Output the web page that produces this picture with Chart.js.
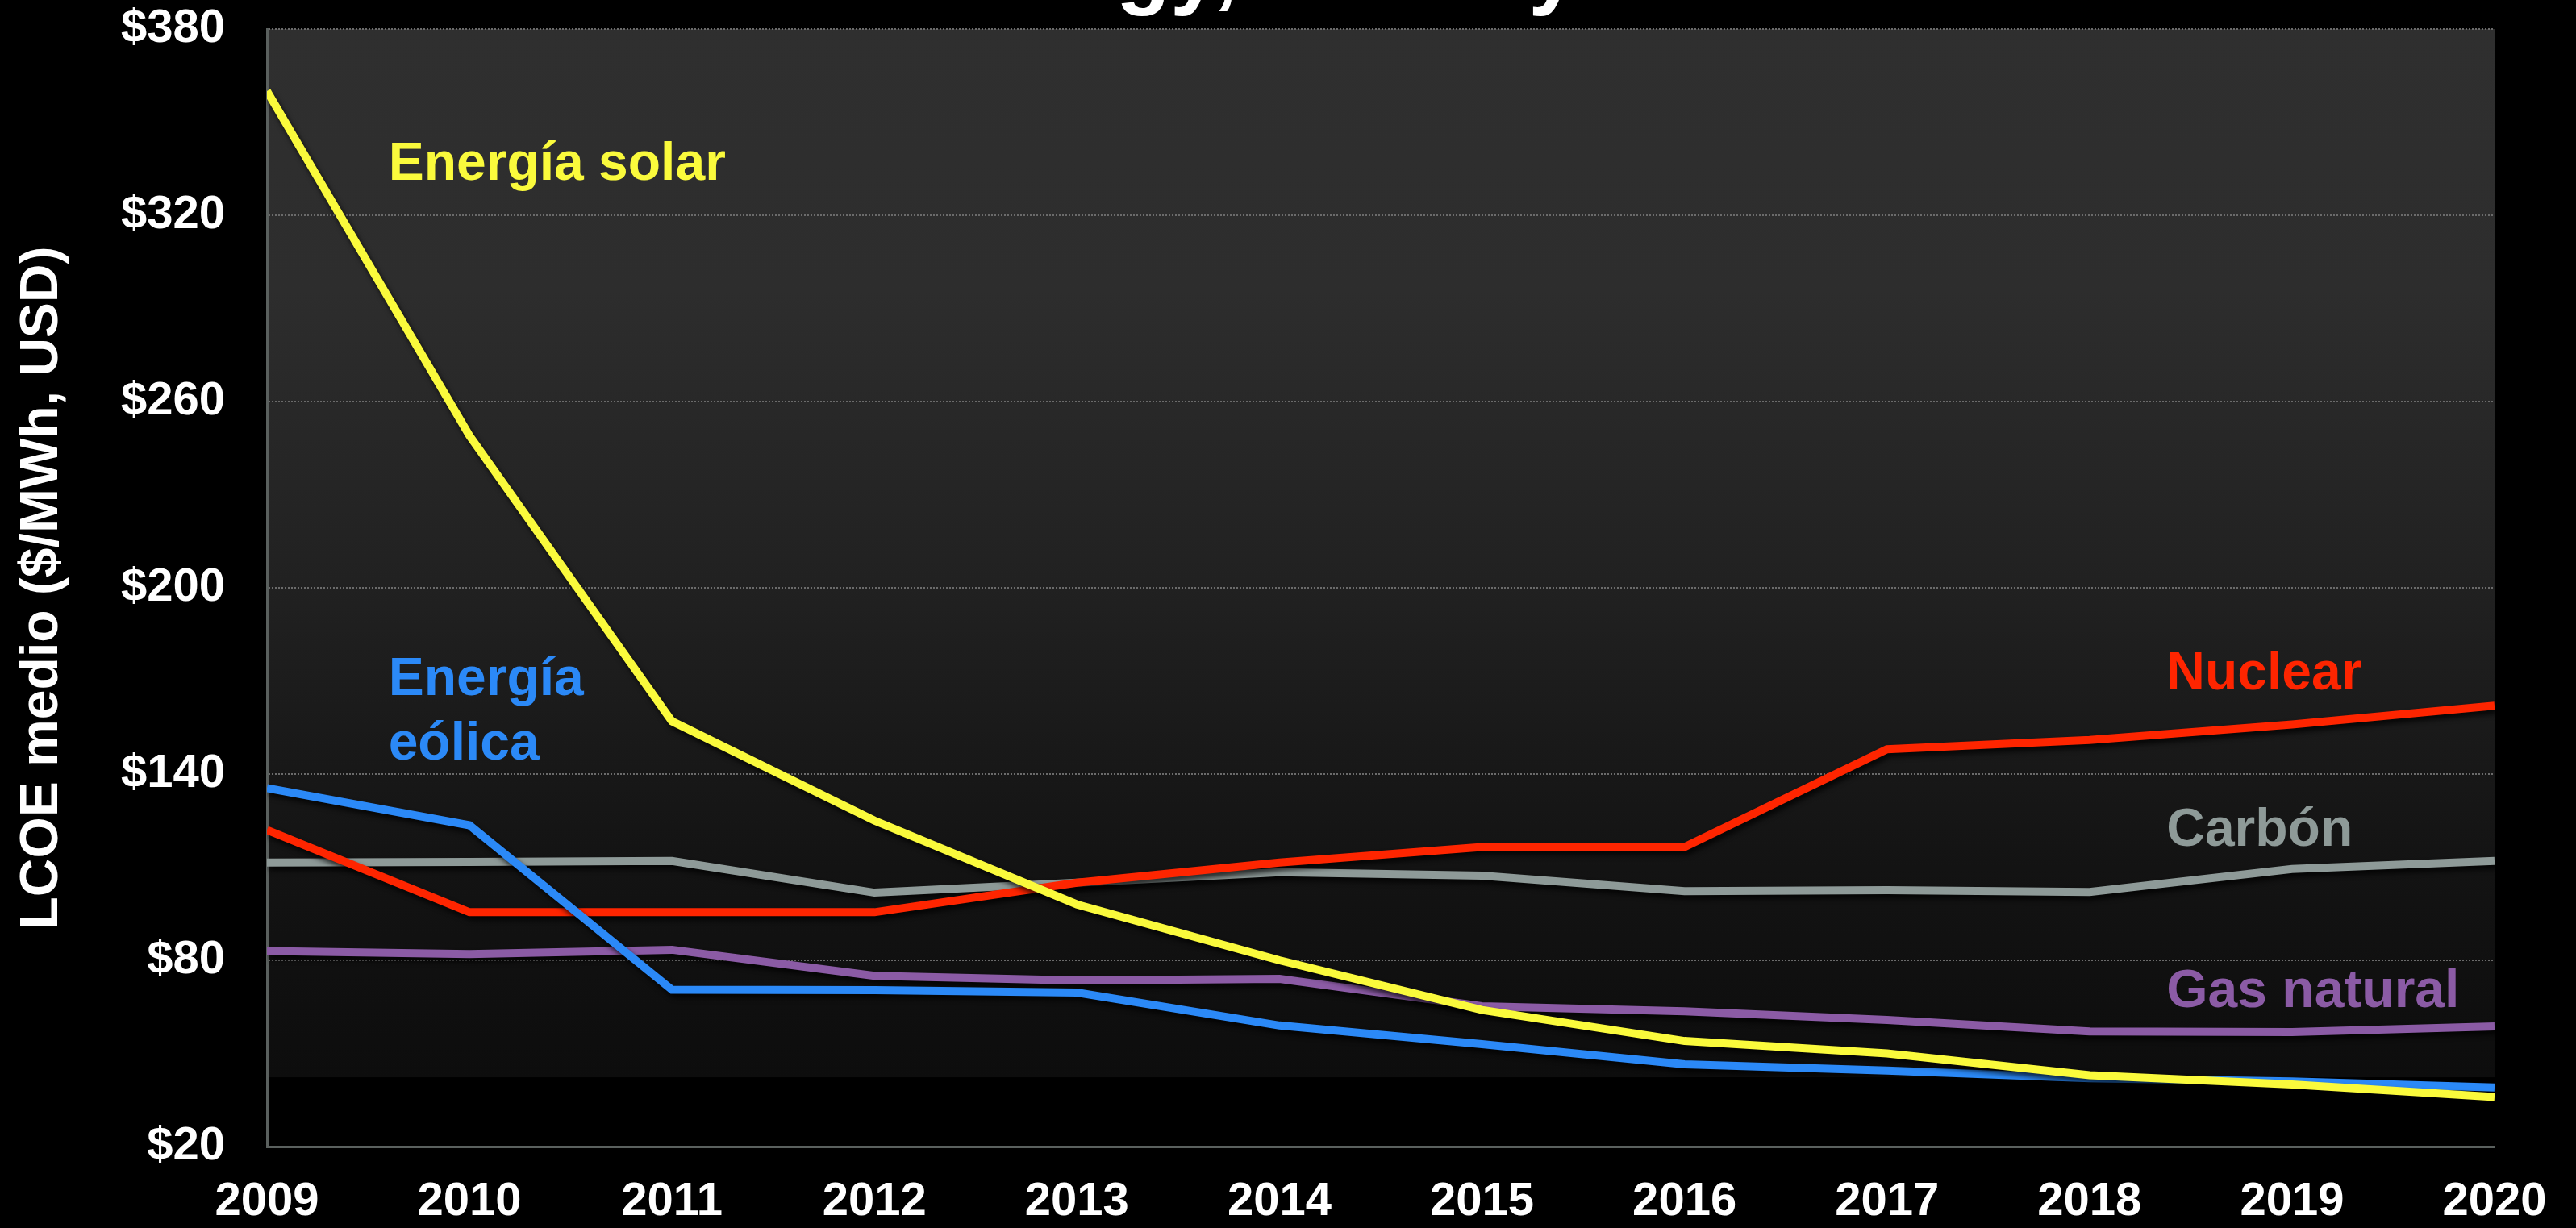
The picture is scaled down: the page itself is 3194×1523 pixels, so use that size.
<!DOCTYPE html>
<html>
<head>
<meta charset="utf-8">
<script src="https://cdn.jsdelivr.net/npm/chart.js@4.4.0/dist/chart.umd.min.js"></script>
<style>
  html, body { margin: 0; padding: 0; background: #000; }
  #wrap { width: 3194px; height: 1523px; position: relative; }
</style>
</head>
<body>
<div id="wrap"><canvas id="lcoeChart"></canvas></div>
<script>
const years = [2009, 2010, 2011, 2012, 2013, 2014, 2015, 2016, 2017, 2018, 2019, 2020];
const solar = [360, 249, 157, 125, 98, 80, 64, 54, 50, 43, 40, 36];
const wind = [135.5, 123.5, 70.5, 70.4, 69.6, 59, 53, 46.5, 44.5, 42, 41, 39];
const nuclear = [122, 95.5, 95.5, 95.5, 105, 111.5, 116.5, 116.5, 148, 151, 156, 162];
const coal = [111.5, 111.7, 112, 101.8, 105, 108.4, 107.3, 102.3, 102.6, 102, 109.4, 112];
const gas = [83, 82, 83.4, 75, 73.5, 74, 65.2, 63.6, 60.8, 57.1, 56.9, 58.7];
const yTicks = [20, 80, 140, 200, 260, 320, 380];

const FONT = "'Liberation Sans', Arial, sans-serif";
const colors = {
  solar: '#FAFA3C',
  wind: '#2B89F7',
  nuclear: '#FE2500',
  coal: '#8E9A98',
  gas: '#8B5BA5'
};

function points(values) {
  return years.map((y, i) => ({ x: y, y: values[i] }));
}

function line(label, values, color, order) {
  return {
    label: label,
    data: points(values),
    borderColor: color,
    borderWidth: 10,
    borderCapStyle: 'butt',
    borderJoinStyle: 'miter',
    pointRadius: 0,
    tension: 0,
    fill: false,
    order: order
  };
}

// text labels next to the lines (x in years, y in $/MWh, left aligned on the baseline)
const notes = [
  { lines: ['Energía solar'], x: 2009.6, y: 331.4, color: colors.solar },
  { lines: ['Energía', 'eólica'], x: 2009.6, y: 165.5, color: colors.wind },
  { lines: ['Nuclear'], x: 2018.38, y: 167.3, color: colors.nuclear },
  { lines: ['Carbón'], x: 2018.38, y: 116.9, color: colors.coal },
  { lines: ['Gas natural'], x: 2018.38, y: 64.9, color: colors.gas }
];

const backdrop = {
  id: 'backdrop',
  beforeDraw(chart) {
    const { ctx, chartArea: a } = chart;
    const h = a.bottom - a.top;
    const cut = a.top + h * 0.938;
    const g = ctx.createLinearGradient(0, a.top, 0, cut);
    g.addColorStop(0, '#2f2f2f');
    g.addColorStop(0.25, '#2d2d2d');
    g.addColorStop(0.55, '#202020');
    g.addColorStop(0.8, '#131313');
    g.addColorStop(1, '#0d0d0d');
    ctx.save();
    ctx.fillStyle = g;
    ctx.fillRect(a.left, a.top, a.right - a.left, cut - a.top);
    ctx.restore();
  }
};

const lineShadow = {
  id: 'lineShadow',
  beforeDatasetDraw(chart) {
    const c = chart.ctx;
    c.save();
    c.shadowColor = 'rgba(0,0,0,0.75)';
    c.shadowBlur = 6;
    c.shadowOffsetX = 3;
    c.shadowOffsetY = 5;
  },
  afterDatasetDraw(chart) {
    chart.ctx.restore();
  }
};

const lineNotes = {
  id: 'lineNotes',
  afterDatasetsDraw(chart) {
    const { ctx, scales } = chart;
    ctx.save();
    ctx.font = 'bold 66px ' + FONT;
    ctx.textAlign = 'left';
    ctx.textBaseline = 'alphabetic';
    notes.forEach(n => {
      const px = scales.x.getPixelForValue(n.x);
      const py = scales.y.getPixelForValue(n.y);
      ctx.fillStyle = n.color;
      n.lines.forEach((t, i) => ctx.fillText(t, px, py + i * 80));
    });
    ctx.restore();
  }
};

// slide title, cut off by the top of the picture
const topTitle = {
  id: 'topTitle',
  afterDraw(chart) {
    const ctx = chart.ctx;
    ctx.save();
    ctx.font = 'bold 110px ' + FONT;
    ctx.fillStyle = '#ffffff';
    ctx.textAlign = 'left';
    ctx.textBaseline = 'alphabetic';
    ctx.fillText('Levelized Cost of Energy, Year by Year', 204, -3);
    ctx.restore();
  }
};

const ctx = document.getElementById('lcoeChart').getContext('2d');

new Chart(ctx, {
  type: 'line',
  data: {
    datasets: [
      line('Energía solar', solar, colors.solar, 1),
      line('Energía eólica', wind, colors.wind, 2),
      line('Nuclear', nuclear, colors.nuclear, 3),
      line('Gas natural', gas, colors.gas, 4),
      line('Carbón', coal, colors.coal, 5)
    ]
  },
  options: {
    responsive: true,
    maintainAspectRatio: false,
    animation: false,
    layout: { padding: { top: 36, right: 101, bottom: 0, left: 0 } },
    plugins: {
      legend: { display: false },
      tooltip: { enabled: false }
    },
    scales: {
      x: {
        type: 'linear',
        min: years[0],
        max: years[years.length - 1],
        afterBuildTicks(scale) {
          scale.ticks = years.map(v => ({ value: v }));
        },
        afterFit(scale) {
          scale.height = 101;
          scale.paddingLeft = 0;
          scale.paddingRight = 0;
        },
        grid: { display: false, drawTicks: false },
        border: { display: true, color: '#5A605E', width: 3 },
        ticks: {
          color: '#ffffff',
          padding: 34,
          maxRotation: 0,
          autoSkip: false,
          font: { family: FONT, size: 58, weight: 'bold' },
          callback: v => String(v)
        }
      },
      y: {
        min: yTicks[0],
        max: yTicks[yTicks.length - 1],
        afterBuildTicks(scale) {
          scale.ticks = yTicks.map(v => ({ value: v }));
        },
        afterFit(scale) {
          scale.width = 331;
          scale.paddingTop = 0;
          scale.paddingBottom = 0;
        },
        grid: { color: '#6b6b6b', lineWidth: 2, drawTicks: false },
        border: { display: true, color: '#5A605E', width: 3, dash: [2, 2] },
        ticks: {
          color: '#ffffff',
          padding: 52,
          font: { family: FONT, size: 58, weight: 'bold' },
          callback: v => '$' + v
        },
        title: {
          display: true,
          text: 'LCOE medio ($/MWh, USD)',
          color: '#ffffff',
          padding: { top: 13, bottom: 0 },
          font: { family: FONT, size: 66, weight: 'bold' }
        }
      }
    }
  },
  plugins: [backdrop, lineShadow, lineNotes, topTitle]
});
</script>
</body>
</html>
